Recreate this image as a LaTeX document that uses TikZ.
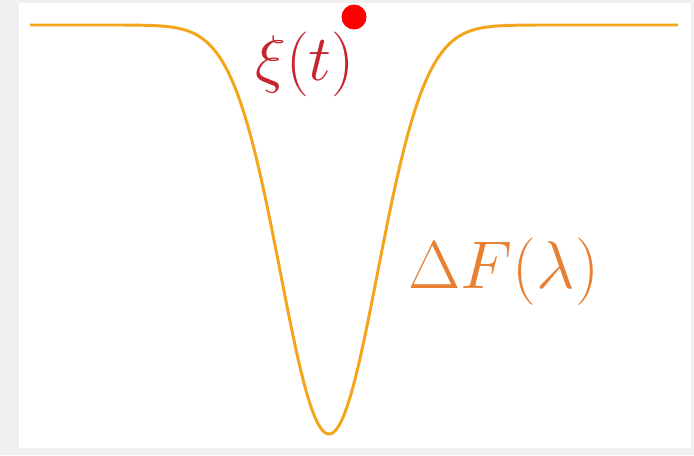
\documentclass[tikz,border=0pt]{standalone}
\usepackage{tikz}
\usetikzlibrary{positioning}

\definecolor{wellorange}{RGB}{243,166,28}
\definecolor{labelorange}{RGB}{232,128,52}
\definecolor{particlered}{RGB}{200,36,44}

\newcommand{\biglab}[2]{\scalebox{#1}{\Huge$#2$}}

\begin{document}
\begin{tikzpicture}[x=0.025cm, y=-0.025cm,
		well/.style={line width=2.1pt, color=wellorange},
		biglabel/.style={inner sep=0pt}]
				% frame
				\fill[black!6] (0,0) rectangle (694,455);
				\fill[white] (19,3) rectangle (691,448);
				\useasboundingbox (0,0) rectangle (694,455);
				% free energy well
				\draw[well] plot[domain=30:678, samples=240]
					(\x, {25+409*exp(-0.5*((\x-329)/48.5)^2)});
				\node[biglabel, text=particlered] (xi) at (305,64) {\biglab{1.85}{\xi(t)}};
				\fill[red] (354,17) circle (12.5);
				\node[biglabel, text=labelorange] (dF) at (504,272) {\biglab{1.93}{\Delta F(\lambda)}};
			\end{tikzpicture}
\end{document}
